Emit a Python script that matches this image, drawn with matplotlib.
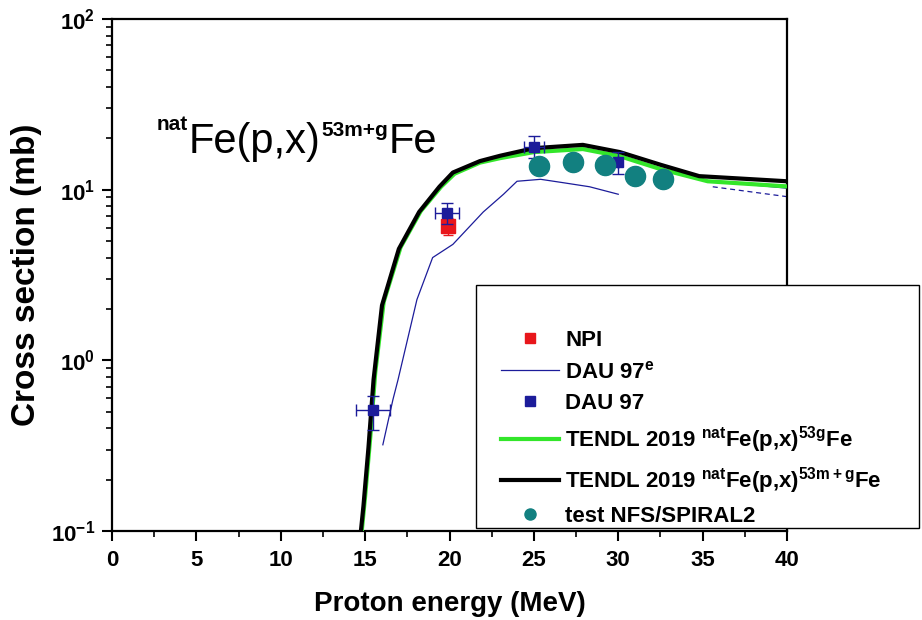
import matplotlib

matplotlib.use("Agg")

import matplotlib.pyplot as plt
from matplotlib.lines import Line2D
from matplotlib.patches import Rectangle

plt.rcParams["font.family"] = ["Liberation Sans", "DejaVu Sans"]
plt.rcParams["font.weight"] = "bold"
plt.rcParams["mathtext.fontset"] = "custom"
plt.rcParams["mathtext.rm"] = "Liberation Sans:bold"
plt.rcParams["mathtext.bf"] = "Liberation Sans:bold"
plt.rcParams["mathtext.it"] = "Liberation Sans:bold"
plt.rcParams["axes.unicode_minus"] = False

# TENDL 2019 natFe(p,x)53m+gFe
tendl_mg_energy = [14.75, 14.9, 15.2, 15.5, 16.0, 17.0, 18.2, 19.4, 20.2, 21.8,
                   23.0, 25.0, 27.9, 30.1, 32.5, 34.8, 40.0]
tendl_mg_xs = [0.1, 0.14, 0.31, 0.77, 2.1, 4.5, 7.4, 10.4, 12.6, 14.7,
               15.8, 17.5, 18.3, 16.6, 14.0, 12.0, 11.2]

# TENDL 2019 natFe(p,x)53gFe
tendl_g_energy = [14.8, 15.0, 15.3, 15.6, 16.1, 17.1, 18.3, 19.5, 20.3, 21.8,
                  23.0, 25.0, 27.9, 30.1, 32.5, 35.3, 40.0]
tendl_g_xs = [0.1, 0.16, 0.35, 0.85, 2.2, 4.6, 7.5, 10.4, 12.4, 14.4,
              15.3, 16.6, 17.3, 15.7, 13.2, 11.2, 10.45]

# DAU 97 evaluated curve
dau_e_energy = [16.05, 16.65, 16.95, 18.07, 19.0, 20.2, 22.0, 23.2, 24.0,
                25.4, 26.7, 28.3, 30.0]
dau_e_xs = [0.32, 0.59, 0.77, 2.27, 4.0, 4.78, 7.4, 9.4, 11.2,
            11.5, 11.0, 10.4, 9.4]
dau_e_tail_energy = [35.6, 40.0]
dau_e_tail_xs = [11.2, 10.2]
dau_e_dash_energy = [35.6, 40.0]
dau_e_dash_xs = [10.4, 9.1]

# DAU 97 measured points
dau_energy = [15.45, 19.85, 25.0, 30.0]
dau_xs = [0.51, 7.3, 17.9, 14.5]
dau_energy_err = [1.0, 0.7, 0.6, 0.0]
dau_xs_err_low = [0.12, 1.0, 2.6, 2.2]
dau_xs_err_high = [0.11, 1.0, 2.6, 2.2]

# NPI point
npi_energy = [19.9]
npi_xs = [6.1]
npi_xs_err = [0.7]

# test NFS/SPIRAL2
nfs_energy = [25.3, 27.3, 29.2, 31.0, 32.65]
nfs_xs = [13.7, 14.5, 13.9, 12.1, 11.5]

W, H = 922, 620


def fx(px):
    return px / W


def fy(py):
    return 1 - py / H


fig = plt.figure(figsize=(9.22, 6.20), dpi=100)
ax = fig.add_axes([fx(112), fy(531), fx(787) - fx(112), fy(19) - fy(531)])

navy = "#1c1c9a"
green = "#33e62a"
teal = "#128080"

ax.plot(dau_e_energy, dau_e_xs, color=navy, lw=0.9, zorder=2)
ax.plot(dau_e_tail_energy, dau_e_tail_xs, color=navy, lw=0.9, zorder=2)
ax.plot(dau_e_dash_energy, dau_e_dash_xs, color=navy, lw=0.9, ls=(0, (4, 3)), zorder=2)
ax.plot(tendl_g_energy, tendl_g_xs, color=green, lw=3.0, zorder=3)
ax.plot(tendl_mg_energy, tendl_mg_xs, color="black", lw=3.0, zorder=3.5)

ax.errorbar(npi_energy, npi_xs, yerr=npi_xs_err, fmt="s", color="#e8161b",
            ms=9.5, elinewidth=1, capsize=3.5, zorder=4)
ax.errorbar(dau_energy, dau_xs, xerr=dau_energy_err,
            yerr=[dau_xs_err_low, dau_xs_err_high], fmt="s", color=navy,
            ms=6.5, elinewidth=1, capsize=4, zorder=4.2)
ax.plot(nfs_energy, nfs_xs, "o", color=teal, ms=14.5, mec=teal, zorder=4.4)

ax.set_yscale("log")
ax.set_xlim(0, 40)
ax.set_ylim(0.1, 100)
ax.set_xticks(range(0, 41, 5))
ax.set_xticks([x + 2.5 for x in range(0, 40, 5)], minor=True)
ax.tick_params(axis="both", which="major", direction="out", length=7, width=1.5,
               top=False, right=False)
ax.tick_params(axis="both", which="minor", direction="out", length=4, width=1.2,
               top=False, right=False)
ax.tick_params(axis="x", labelsize=16, pad=7)
ax.tick_params(axis="y", labelsize=16, pad=5)
for side in ax.spines.values():
    side.set_linewidth(1.6)

ax.set_xlabel("Proton energy (MeV)", fontsize=20, fontweight="bold", labelpad=14)
ax.set_ylabel("Cross section (mb)", fontsize=24, fontweight="bold")
ax.yaxis.set_label_coords(-0.104, 0.5)

# reaction label with hand placed superscripts
t_nat = fig.text(fx(157), fy(130), "nat", fontsize=15, fontweight="bold")
t_fe = ax.annotate("Fe(p,x)", xy=(1, 0), xycoords=t_nat, xytext=(0, -20),
                   textcoords="offset points", fontsize=30, fontweight="normal",
                   va="bottom", ha="left")
t_iso = ax.annotate("53m+g", xy=(1, 0), xycoords=t_fe, xytext=(1, 16),
                    textcoords="offset points", fontsize=15, fontweight="bold",
                    va="bottom", ha="left")
ax.annotate("Fe", xy=(1, 0), xycoords=t_iso, xytext=(0, -16),
            textcoords="offset points", fontsize=30, fontweight="normal",
            va="bottom", ha="left")

# legend box sits over the right spine
box = Rectangle((fx(476), fy(528)), fx(919) - fx(476), fy(285) - fy(528),
                transform=fig.transFigure, facecolor="white", edgecolor="black",
                lw=1.0, zorder=4.8, clip_on=False)
ax.add_patch(box)

handles = [
    Line2D([], [], ls="none", marker="s", color="#e8161b", ms=7),
    Line2D([], [], color=navy, lw=0.9),
    Line2D([], [], ls="none", marker="s", color=navy, ms=7),
    Line2D([], [], color=green, lw=3.0),
    Line2D([], [], color="black", lw=3.0),
    Line2D([], [], ls="none", marker="o", color=teal, ms=8),
]
labels = [
    "NPI",
    "DAU 97$^{\\mathrm{e}}$",
    "DAU 97",
    "TENDL 2019 $^{\\mathrm{nat}}$Fe(p,x)$^{\\mathrm{53g}}$Fe",
    "TENDL 2019 $^{\\mathrm{nat}}$Fe(p,x)$^{\\mathrm{53m+g}}$Fe",
    "test NFS/SPIRAL2",
]
leg = ax.legend(handles, labels, loc="upper left",
                bbox_to_anchor=(fx(501), fy(330)), bbox_transform=fig.transFigure,
                frameon=False, fontsize=16, handlelength=2.6, handletextpad=0.3,
                labelspacing=0.45, borderpad=0, borderaxespad=0)
leg.set_zorder(5)

fig.savefig("out.png", dpi=100)
